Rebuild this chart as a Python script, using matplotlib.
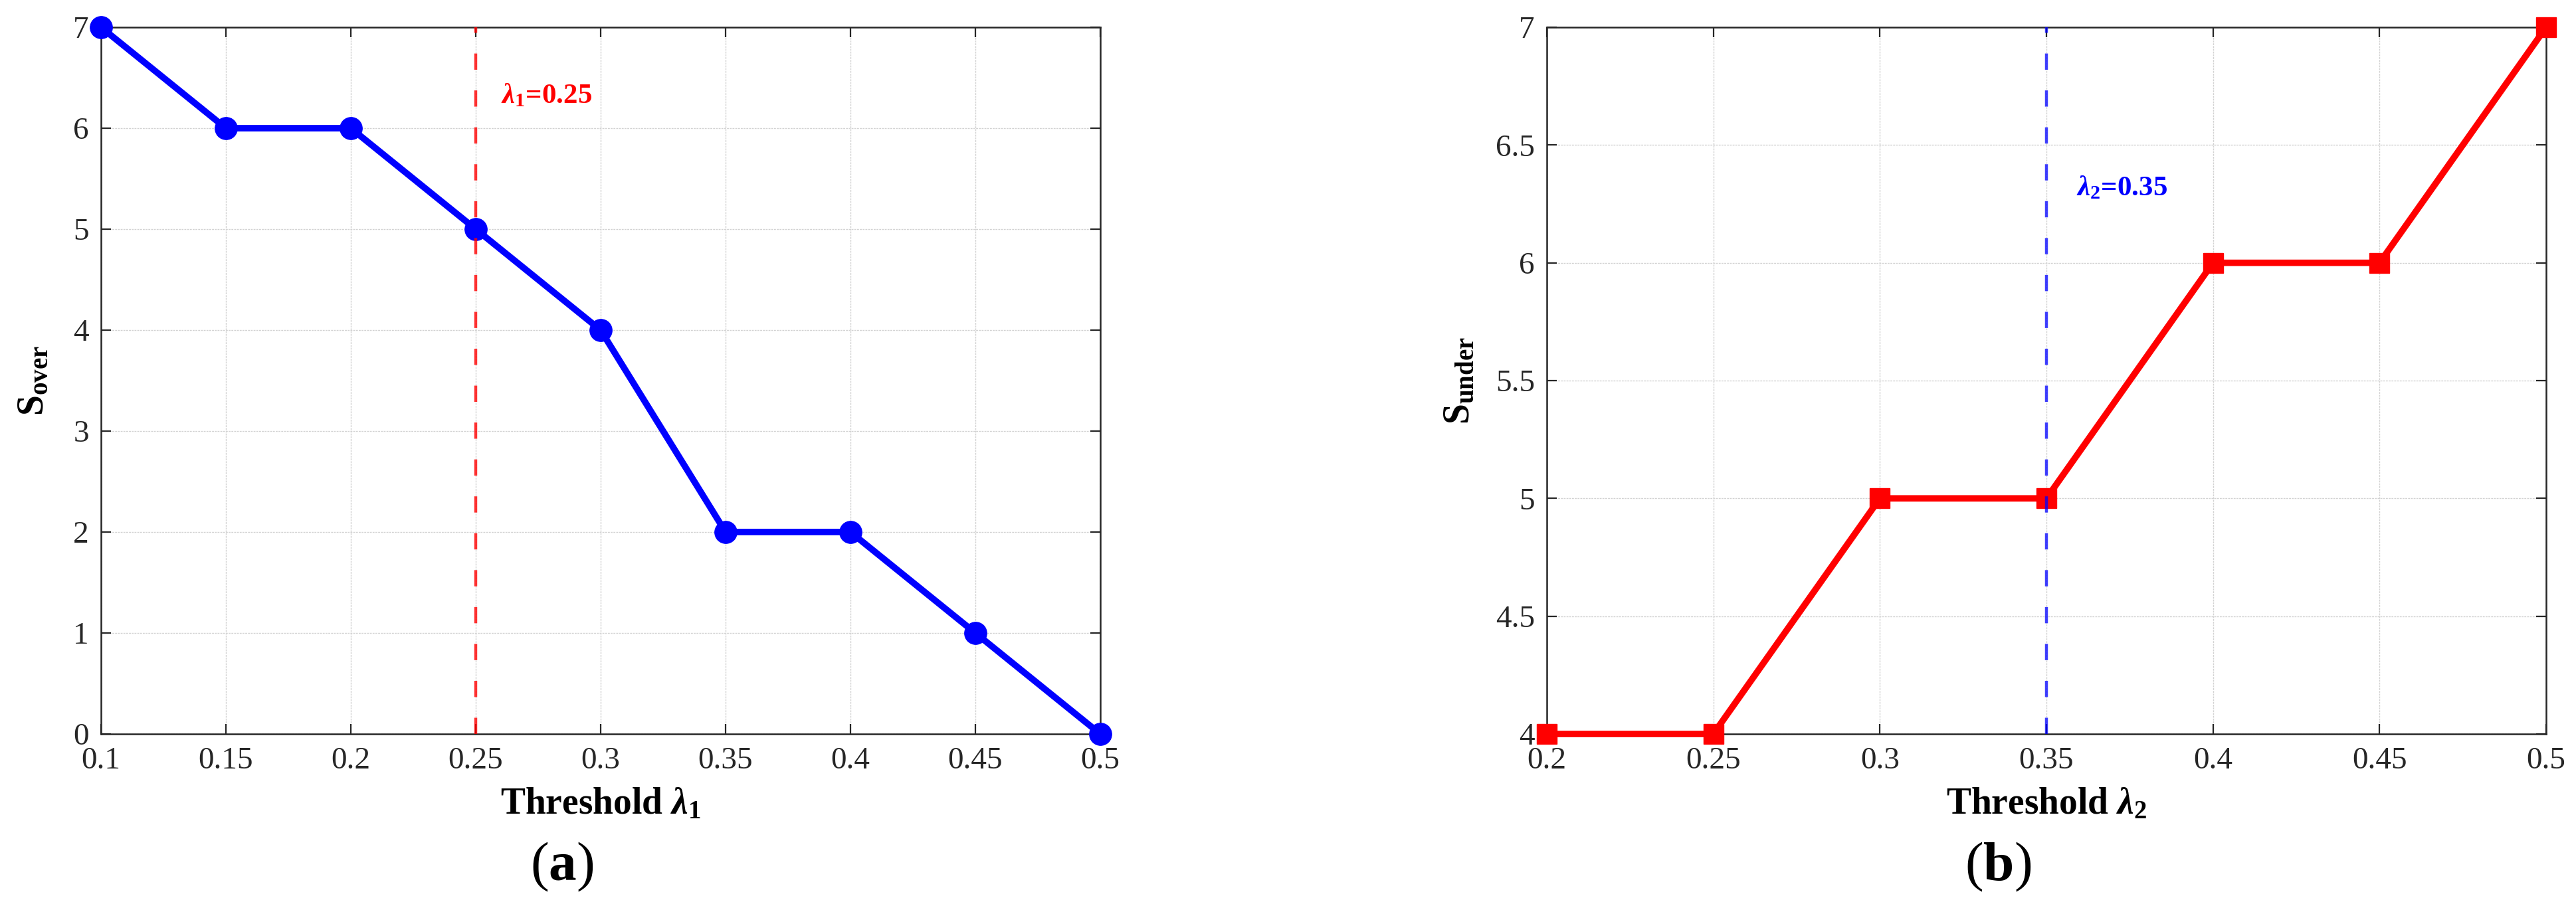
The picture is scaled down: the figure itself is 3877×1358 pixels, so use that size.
import matplotlib
matplotlib.use("Agg")
import matplotlib.pyplot as plt

# data
thr_over = [0.1, 0.15, 0.2, 0.25, 0.3, 0.35, 0.4, 0.45, 0.5]
s_over = [7, 6, 6, 5, 4, 2, 2, 1, 0]
lambda1 = 0.25

thr_under = [0.2, 0.25, 0.3, 0.35, 0.4, 0.45, 0.5]
s_under = [4, 4, 5, 5, 6, 6, 7]
lambda2 = 0.35

x_ticks_a = [0.1, 0.15, 0.2, 0.25, 0.3, 0.35, 0.4, 0.45, 0.5]
x_tick_labels_a = ["0.1", "0.15", "0.2", "0.25", "0.3", "0.35", "0.4", "0.45", "0.5"]
y_ticks_a = [0, 1, 2, 3, 4, 5, 6, 7]
x_ticks_b = [0.2, 0.25, 0.3, 0.35, 0.4, 0.45, 0.5]
x_tick_labels_b = ["0.2", "0.25", "0.3", "0.35", "0.4", "0.45", "0.5"]
y_ticks_b = [4, 4.5, 5, 5.5, 6, 6.5, 7]
y_tick_labels_b = ["4", "4.5", "5", "5.5", "6", "6.5", "7"]

plt.rcParams["font.family"] = ["Liberation Serif", "DejaVu Serif"]
plt.rcParams["mathtext.fontset"] = "custom"
plt.rcParams["mathtext.rm"] = "Liberation Serif"
plt.rcParams["mathtext.it"] = "Liberation Serif:italic"
plt.rcParams["mathtext.bf"] = "Liberation Serif:bold"
plt.rcParams["mathtext.bfit"] = "Liberation Serif:italic:bold"

fig = plt.figure(figsize=(38.77, 13.58), dpi=100)
ax1 = fig.add_axes([152 / 3877, 253 / 1358, 1504 / 3877, 1064 / 1358])
ax2 = fig.add_axes([2328 / 3877, 253 / 1358, 1504 / 3877, 1064 / 1358])


def style_axes(ax):
    for sp in ax.spines.values():
        sp.set_linewidth(1.8)
        sp.set_color("#262626")
    ax.tick_params(direction="in", length=11, width=1.6, top=True, right=True,
                   labelsize=34, colors="#262626", pad=13)
    ax.tick_params(axis="x", pad=14)
    ax.grid(True, color="#d2d2d2", linewidth=1.0, linestyle=(0, (2, 1)))
    ax.set_axisbelow(True)


# (a)
style_axes(ax1)
ax1.plot(thr_over, s_over, color="blue", lw=7, marker="o", ms=24,
         clip_on=False, zorder=3)
ax1.axvline(lambda1, color="red", alpha=0.8, lw=3.2, dashes=(5.5, 7), zorder=4)
ax1.text(lambda1 + 0.01, 6.32, r"$\mathbfit{\lambda}_\mathbf{1}$=0.25", color="red",
         fontsize=31, fontweight="bold", va="center", ha="left")
ax1.set_xlim(0.1, 0.5)
ax1.set_ylim(0, 7)
ax1.set_xticks(x_ticks_a)
ax1.set_xticklabels(x_tick_labels_a)
ax1.set_yticks(y_ticks_a)
ax1.set_xlabel(r"Threshold $\mathbfit{\lambda}_\mathbf{1}$", fontsize=40, fontweight="bold")
ax1.set_ylabel(r"$\mathbf{S}_\mathbf{over}$", fontsize=40)
ax1.xaxis.set_label_coords(0.5, -0.075)
ax1.yaxis.set_label_coords(-0.05, 0.5)
fig.text(846 / 3877, 1 - 1305 / 1358, r"($\mathbf{a}$)", fontsize=60,
         ha="center", va="center")

# (b)
style_axes(ax2)
ax2.plot(thr_under, s_under, color="red", lw=7, marker="s", ms=21,
         clip_on=False, zorder=3)
ax2.axvline(lambda2, color="blue", alpha=0.75, lw=3.2, dashes=(5.5, 7), zorder=4)
ax2.text(lambda2 + 0.009, 6.315, r"$\mathbfit{\lambda}_\mathbf{2}$=0.35", color="blue",
         fontsize=31, fontweight="bold", va="center", ha="left")
ax2.set_xlim(0.2, 0.5)
ax2.set_ylim(4, 7)
ax2.set_xticks(x_ticks_b)
ax2.set_xticklabels(x_tick_labels_b)
ax2.set_yticks(y_ticks_b)
ax2.set_yticklabels(y_tick_labels_b)
ax2.set_xlabel(r"Threshold $\mathbfit{\lambda}_\mathbf{2}$", fontsize=40, fontweight="bold")
ax2.set_ylabel(r"$\mathbf{S}_\mathbf{under}$", fontsize=40)
ax2.xaxis.set_label_coords(0.5, -0.075)
ax2.yaxis.set_label_coords(-0.07, 0.5)
fig.text(3007 / 3877, 1 - 1305 / 1358, r"($\mathbf{b}$)", fontsize=60,
         ha="center", va="center")

fig.savefig("out.png", dpi=100)
